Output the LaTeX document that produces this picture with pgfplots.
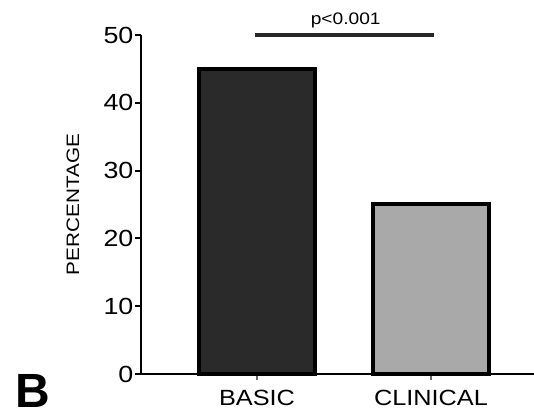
\documentclass[border=0pt]{standalone}
\usepackage{fontspec}
\setmainfont[FakeStretch=1.15]{Liberation Sans}
\newfontfamily\panelfont{Liberation Sans}
\usepackage{pgfplots}
\pgfplotsset{compat=1.18}
\definecolor{basicfill}{HTML}{2A2A2A}
\definecolor{clinfill}{HTML}{A9A9A9}
\begin{document}
\begin{tikzpicture}
\useasboundingbox (0,0) rectangle (400.5pt,312pt);
\begin{axis}[
  at={(105.75pt,31.5pt)}, anchor=south west,
  scale only axis, width=294.75pt, height=254.25pt,
  xmin=-0.6667, xmax=1.592, ymin=0, ymax=50,
  axis lines*=left,
  axis line style={line width=1.6pt},
  xtick={0,1}, xticklabels={BASIC,CLINICAL},
  ytick={0,10,20,30,40,50},
  tick align=outside,
  major tick length=4.5pt,
  ytick style={line width=1.5pt, black},
  xtick style={line width=1pt, black!60},
  /pgf/number format/assume math mode=true,
  yticklabel style={font=\fontsize{17.5}{19}\selectfont, inner sep=1pt},
  xticklabel style={font=\fontsize{16.5}{18}\selectfont, yshift=-4pt},
  ylabel={PERCENTAGE},
  ylabel style={at={(axis description cs:-0.173,0.5)}, anchor=center,
                font=\fontsize{13.5}{16}\selectfont},
  clip=false,
]
% group means
\addplot[ybar, bar width=0.667, bar shift=0pt, fill=basicfill, draw=black,
         line width=3pt] coordinates {(0,45)};
\addplot[ybar, bar width=0.667, bar shift=0pt, fill=clinfill, draw=black,
         line width=3pt] coordinates {(1,25)};
% significance bracket
\addplot[sharp plot, no marks, black!85, line width=2.6pt]
  coordinates {(-0.01,50) (1.02,50)};
\node[anchor=base, font=\fontsize{12.5}{14}\selectfont] at (axis cs:0.51,51.5) {p<0.001};
\end{axis}
\node[inner sep=0pt, font=\panelfont\bfseries\fontsize{36}{40}\selectfont] at (24.75pt,19pt) {B};
\end{tikzpicture}
\end{document}
